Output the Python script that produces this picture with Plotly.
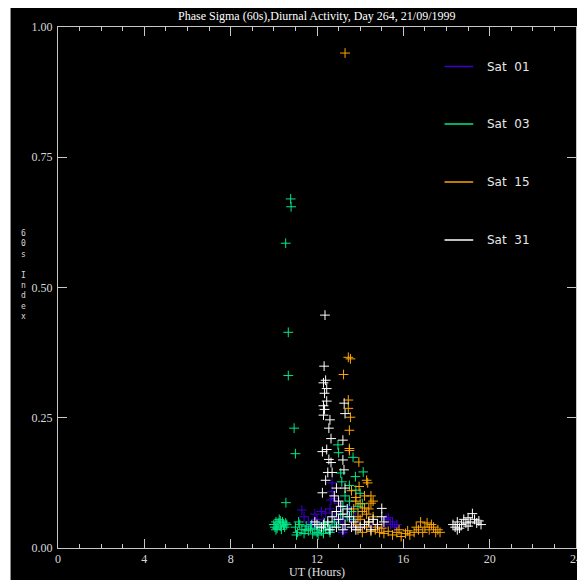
import plotly.graph_objects as go

title_text = "Phase Sigma (60s),Diurnal Activity, Day 264, 21/09/1999"
x_title = "UT (Hours)"
y_title = "60s Index"
x_ticks = [0, 4, 8, 12, 16, 20, 24]
y_ticks = [0.0, 0.25, 0.5, 0.75, 1.0]
series_names = ["Sat 01", "Sat 03", "Sat 15", "Sat 31"]
series_colors = ["#3c00d2", "#00e888", "#ffa500", "#ffffff"]

sat01_x = [11.3, 11.4, 11.6, 11.8, 12.0, 12.1, 12.3, 12.4, 12.5, 12.6, 12.7, 12.7, 12.65, 12.6, 12.8,
           12.9, 12.9, 13.0, 13.1, 13.2, 13.3, 13.4, 13.5, 13.6, 13.7, 13.8, 13.0, 12.8, 13.2, 13.9,
           14.2, 14.5, 14.8, 15.0, 15.2, 15.4, 15.5, 15.6, 15.7, 15.3, 12.2, 11.9, 11.7]
sat01_y = [0.073, 0.060, 0.050, 0.045, 0.055, 0.040, 0.050, 0.067, 0.045, 0.035, 0.125, 0.108, 0.092, 0.075, 0.060,
           0.050, 0.040, 0.070, 0.055, 0.045, 0.035, 0.065, 0.079, 0.055, 0.045, 0.060, 0.085, 0.095, 0.030, 0.040,
           0.045, 0.040, 0.045, 0.040, 0.055, 0.045, 0.050, 0.040, 0.045, 0.058, 0.070, 0.065, 0.040]

sat03_x = [10.0, 10.05, 10.1, 10.15, 10.2, 10.25, 10.3, 10.35, 10.4, 10.45, 10.5, 10.55, 10.1, 10.3, 10.6,
           11.0, 11.1, 11.2, 11.3, 11.4, 11.5, 11.6, 11.7, 11.8, 11.9, 12.0, 12.1, 12.2, 12.3, 12.4,
           12.5, 12.6, 12.7, 11.15, 11.45, 11.75, 12.05, 12.35, 12.55, 12.8, 13.0, 11.05,
           10.78, 10.8, 10.55, 10.67, 10.67, 10.94, 11.0, 10.56,
           12.97, 13.0, 13.67, 14.14, 13.78, 13.1, 13.15, 13.8, 14.0, 13.3, 13.5, 13.2, 13.6, 13.9,
           13.4, 13.7, 13.1, 14.1, 13.5]
sat03_y = [0.045, 0.040, 0.050, 0.038, 0.048, 0.055, 0.042, 0.036, 0.050, 0.044, 0.040, 0.048, 0.035, 0.052, 0.045,
           0.040, 0.030, 0.045, 0.035, 0.028, 0.042, 0.033, 0.038, 0.027, 0.036, 0.030, 0.040, 0.033, 0.028, 0.038,
           0.045, 0.030, 0.040, 0.050, 0.035, 0.045, 0.025, 0.048, 0.035, 0.050, 0.045, 0.025,
           0.670, 0.655, 0.585, 0.414, 0.331, 0.230, 0.181, 0.087,
           0.198, 0.183, 0.174, 0.146, 0.137, 0.144, 0.127, 0.111, 0.105, 0.100, 0.090, 0.080, 0.070, 0.080,
           0.060, 0.055, 0.065, 0.085, 0.120]

sat15_x = [13.3, 13.45, 13.55, 13.23, 13.45, 13.45, 13.55, 13.5, 13.5, 13.5, 13.94, 14.3, 14.35, 13.95,
           14.5, 13.8, 14.5, 14.2,
           13.6, 13.8, 14.0, 14.1, 13.9, 14.3, 14.4, 14.6, 13.7, 14.2, 14.0, 14.6, 13.8, 14.4,
           13.9, 14.1, 14.3, 14.5, 14.7, 14.9, 15.1, 15.3, 15.5, 15.7, 15.9, 16.1, 16.3, 16.5,
           16.7, 16.9, 17.0, 17.2, 17.4, 17.6, 16.8, 17.1, 17.3, 17.5, 16.6, 16.2, 15.8, 15.0,
           14.8, 17.7]
sat15_y = [0.950, 0.366, 0.363, 0.333, 0.284, 0.268, 0.251, 0.226, 0.191, 0.187, 0.165, 0.130, 0.125, 0.118,
           0.100, 0.097, 0.086, 0.077,
           0.110, 0.090, 0.085, 0.070, 0.060, 0.065, 0.075, 0.090, 0.075, 0.100, 0.055, 0.060, 0.045, 0.050,
           0.035, 0.030, 0.040, 0.032, 0.035, 0.030, 0.028, 0.032, 0.025, 0.030, 0.022, 0.028, 0.025, 0.030,
           0.035, 0.030, 0.040, 0.035, 0.040, 0.035, 0.050, 0.048, 0.045, 0.030, 0.040, 0.033, 0.035, 0.038,
           0.040, 0.030]

sat31_x = [12.37, 12.33, 12.4, 12.3, 12.45, 12.35, 12.45, 12.3, 12.35, 13.26, 13.3, 12.3, 12.6, 12.55,
           12.65, 13.2, 12.45, 12.25, 12.55, 12.65, 13.2, 12.5, 12.7, 13.25, 12.4, 12.25, 13.3, 12.9,
           12.8, 13.0, 13.1, 12.9, 13.2, 13.4, 13.5, 13.0, 12.7, 12.5, 12.3, 12.2, 12.0, 11.9, 12.6,
           12.9, 13.3, 13.6, 13.8, 14.0, 14.2, 14.4, 14.6, 14.8, 15.0, 15.0, 15.1, 14.5, 13.7, 13.2,
           18.3, 18.4, 18.5, 18.6, 18.7, 18.8, 18.9, 19.0, 19.1, 19.2, 19.3, 19.4, 19.5, 19.6, 18.5, 19.0]
sat31_y = [0.447, 0.349, 0.322, 0.317, 0.306, 0.297, 0.282, 0.273, 0.266, 0.278, 0.258, 0.255, 0.246, 0.230,
           0.210, 0.207, 0.189, 0.185, 0.170, 0.164, 0.169, 0.145, 0.145, 0.150, 0.130, 0.106, 0.115, 0.115,
           0.100, 0.090, 0.080, 0.070, 0.065, 0.075, 0.060, 0.055, 0.060, 0.050, 0.045, 0.040, 0.045, 0.050, 0.035,
           0.040, 0.045, 0.040, 0.035, 0.040, 0.045, 0.050, 0.055, 0.045, 0.076, 0.060, 0.050, 0.035, 0.050, 0.035,
           0.045, 0.040, 0.050, 0.038, 0.045, 0.055, 0.048, 0.042, 0.050, 0.066, 0.055, 0.048, 0.052, 0.045, 0.035, 0.058]

series_x = [sat01_x, sat03_x, sat15_x, sat31_x]
series_y = [sat01_y, sat03_y, sat15_y, sat31_y]

fig = go.Figure()
for name, color, xs, ys in zip(series_names, series_colors, series_x, series_y):
    fig.add_trace(go.Scatter(
        x=xs, y=ys, mode="markers", name=name, showlegend=False,
        marker=dict(symbol="cross-thin", size=7, color=color, line=dict(color=color, width=1)),
    ))

# Screen positions (page has an 8px body margin). Plot area on screen:
# left 58, right 582, top 27, bottom 548 (width 524, height 521)
PW, PH = 524.0, 521.0
def px(xp):
    return (xp - 58) / PW
def py(yp):
    return (548 - yp) / PH

axis_color = "#c8c8c8"
serif = "Liberation Serif"

shapes = [
    dict(type="rect", xref="paper", yref="paper", x0=px(0), x1=px(10), y0=py(600), y1=py(-20),
         fillcolor="white", line=dict(width=0), layer="below"),
]
stacked_title = "<br>".join("&nbsp;" if ch == " " else ch for ch in y_title)
annotations = [
    dict(text=title_text, xref="paper", yref="paper", x=0.5, y=py(16), showarrow=False,
         font=dict(family=serif, size=12, color="white"), xanchor="center", yanchor="middle"),
    dict(text=x_title, xref="paper", yref="paper", x=0.5, y=py(572), showarrow=False, borderpad=0,
         font=dict(family=serif, size=12, color="#e0e0e0"), xanchor="center", yanchor="middle"),
    dict(text=stacked_title, xref="paper", yref="paper", x=px(23), y=py(275), showarrow=False,
         xanchor="center", yanchor="middle", align="center",
         font=dict(family="DejaVu Sans Mono", size=8, color="#d8d8d8")),
]
# legend
legend_rows = [66.5, 124, 182, 240]
for name, color, row in zip(series_names, series_colors, legend_rows):
    shapes.append(dict(type="line", xref="paper", yref="paper", x0=px(449), x1=px(478),
                       y0=py(row), y1=py(row), line=dict(color=color, width=1.5)))
    annotations.append(dict(text=name.replace(" ", "&nbsp;&nbsp;"), xref="paper", yref="paper",
                            x=px(490), y=py(row), showarrow=False, xanchor="left", yanchor="middle",
                            font=dict(family="DejaVu Sans", size=12, color="#e8e8e8")))

fig.update_layout(
    width=585, height=580,
    margin=dict(l=50, r=11, t=19, b=40),
    paper_bgcolor="black", plot_bgcolor="black",
    showlegend=False,
    shapes=shapes, annotations=annotations,
)
fig.update_xaxes(
    range=[0, 24], tickvals=x_ticks, ticktext=[str(v) for v in x_ticks],
    showgrid=False, zeroline=False, showline=True, linecolor=axis_color, linewidth=1,
    mirror="allticks", ticks="inside", ticklen=9, tickcolor=axis_color, tickwidth=1,
    minor=dict(dtick=1, ticks="inside", ticklen=4, tickcolor=axis_color, tickwidth=1),
    tickfont=dict(family=serif, size=12, color="#d8d8d8"),
)
fig.update_yaxes(
    range=[0, 1], tickvals=y_ticks, ticktext=[f"{v:.2f}" for v in y_ticks],
    showgrid=False, zeroline=False, showline=True, linecolor=axis_color, linewidth=1,
    mirror="allticks", ticks="inside", ticklen=9, tickcolor=axis_color, tickwidth=1,
    tickfont=dict(family=serif, size=12, color="#d8d8d8"), ticklabelstandoff=2,
)

fig.write_html("out.html")
